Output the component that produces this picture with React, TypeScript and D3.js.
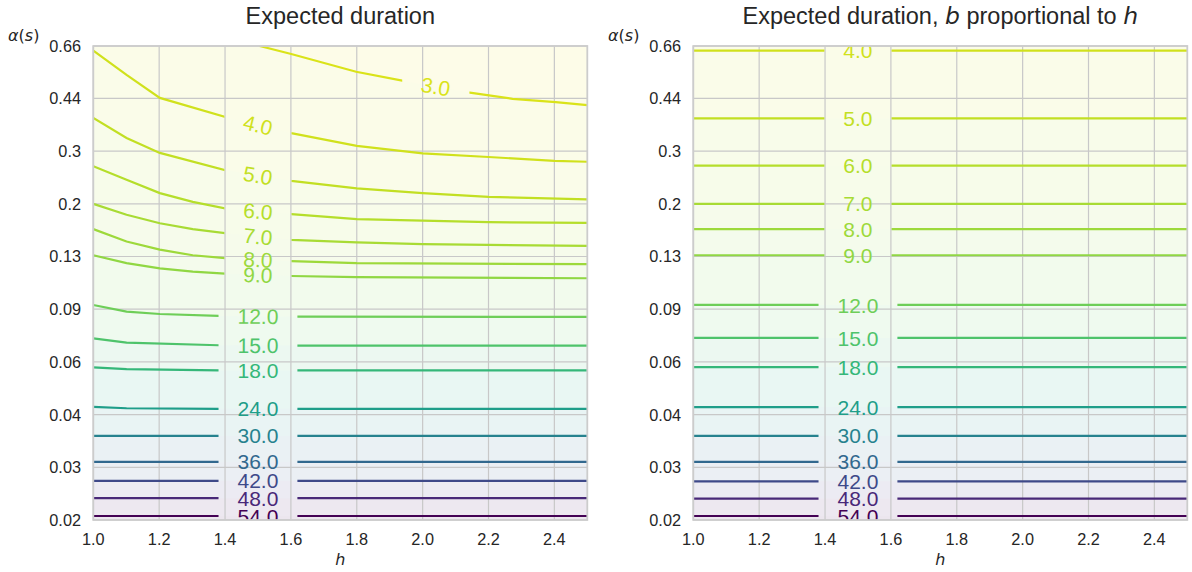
import React from "react";
import * as d3 from "d3";

type Pt = [number, number];

// ---------- axis ticks ----------
const xTickValues = [1.0, 1.2, 1.4, 1.6, 1.8, 2.0, 2.2, 2.4];
const xTickLabels = ["1.0", "1.2", "1.4", "1.6", "1.8", "2.0", "2.2", "2.4"];
const yTickValues = [0.02, 0.0295, 0.0435, 0.0642, 0.0947, 0.1397, 0.2061, 0.3041, 0.4487, 0.66];
const yTickLabels = ["0.02", "0.03", "0.04", "0.06", "0.09", "0.13", "0.2", "0.3", "0.44", "0.66"];

// ---------- panel A: Expected duration (contour lines as [h, alpha]) ----------
const levelsA = [3, 4, 5, 6, 7, 8, 9, 12, 15, 18, 24, 30, 36, 42, 48, 54];
const contourA3: Pt[] = [[1.505, 0.66], [1.601, 0.622], [1.798, 0.546], [1.942, 0.51], [2.138, 0.469], [2.273, 0.447], [2.404, 0.436], [2.5, 0.427]];
const contourA4: Pt[] = [[1.0, 0.638], [1.101, 0.533], [1.202, 0.45], [1.402, 0.391], [1.601, 0.347], [1.8, 0.316], [2.0, 0.299], [2.2, 0.291], [2.4, 0.283], [2.5, 0.281]];
const contourA5: Pt[] = [[1.0, 0.388], [1.101, 0.335], [1.202, 0.3], [1.402, 0.264], [1.601, 0.244], [1.8, 0.231], [2.0, 0.223], [2.2, 0.217], [2.5, 0.213]];
const contourA6: Pt[] = [[1.0, 0.272], [1.101, 0.246], [1.202, 0.223], [1.302, 0.209], [1.402, 0.199], [1.601, 0.191], [1.8, 0.184], [2.0, 0.182], [2.2, 0.18], [2.5, 0.179]];
const contourA7: Pt[] = [[1.0, 0.206], [1.101, 0.19], [1.202, 0.1785], [1.302, 0.171], [1.402, 0.166], [1.601, 0.158], [1.8, 0.155], [2.0, 0.153], [2.5, 0.151]];
const contourA8: Pt[] = [[1.0, 0.171], [1.101, 0.156], [1.202, 0.147], [1.302, 0.141], [1.402, 0.138], [1.601, 0.135], [1.8, 0.133], [2.5, 0.132]];
const contourA9: Pt[] = [[1.0, 0.141], [1.101, 0.133], [1.202, 0.128], [1.302, 0.125], [1.402, 0.123], [1.601, 0.121], [1.8, 0.12], [2.5, 0.119]];
const contourA12: Pt[] = [[1.0, 0.0977], [1.101, 0.093], [1.202, 0.0914], [1.38, 0.0901], [1.626, 0.0896], [2.5, 0.0895]];
const contourA15: Pt[] = [[1.0, 0.0764], [1.101, 0.074], [1.38, 0.0726], [1.626, 0.0724], [2.5, 0.0724]];
const contourA18: Pt[] = [[1.0, 0.0617], [1.101, 0.0609], [1.38, 0.0603], [2.5, 0.0603]];
const contourA24: Pt[] = [[1.0, 0.0461], [1.101, 0.0456], [1.38, 0.0454], [2.5, 0.0454]];
const contourA30: Pt[] = [[1.0, 0.0372], [2.5, 0.0372]];
const contourA36: Pt[] = [[1.0, 0.0307], [2.5, 0.0307]];
const contourA42: Pt[] = [[1.0, 0.0267], [2.5, 0.0267]];
const contourA48: Pt[] = [[1.0, 0.0235], [2.5, 0.0235]];
const contourA54: Pt[] = [[1.0, 0.0206], [2.5, 0.0206]];
const contoursA = [contourA3, contourA4, contourA5, contourA6, contourA7, contourA8, contourA9, contourA12,
  contourA15, contourA18, contourA24, contourA30, contourA36, contourA42, contourA48, contourA54];
const labelHA = [2.04, 1.5, 1.5, 1.5, 1.5, 1.5, 1.5, 1.5, 1.5, 1.5, 1.5, 1.5, 1.5, 1.5, 1.5, 1.5];

// ---------- panel B: b proportional to h (flat contours, alpha per level) ----------
const levelsB = [4, 5, 6, 7, 8, 9, 12, 15, 18, 24, 30, 36, 42, 48, 54];
const alphaB = [0.638, 0.387, 0.273, 0.206, 0.171, 0.141, 0.0977, 0.0766, 0.0618, 0.046, 0.0372, 0.0307, 0.0266, 0.0234, 0.0206];
const labelHB = [1.5, 1.5, 1.5, 1.5, 1.5, 1.5, 1.5, 1.5, 1.5, 1.5, 1.5, 1.5, 1.5, 1.5, 1.5];
const hDomain: Pt = [1.0, 2.5];
const contoursB: Pt[][] = alphaB.map((a) => [[hDomain[0], a], [hDomain[1], a]]);

// ---------- layout / style ----------
const FONT = "'Liberation Sans', Arial, Helvetica, sans-serif";
const MATH = "'DejaVu Sans', sans-serif";
const TXT = "#262626";
const PLOT_TOP = 46;
const PLOT_BOTTOM = 520;
const PLOT_W = 494;
const VMIN = 0;
const VMAX = 54;

function yAtPx(pts: Pt[], x: number): number {
  if (x <= pts[0][0]) return pts[0][1];
  for (let i = 1; i < pts.length; i++) {
    if (x <= pts[i][0]) {
      const t = (x - pts[i - 1][0]) / (pts[i][0] - pts[i - 1][0]);
      return pts[i - 1][1] + t * (pts[i][1] - pts[i - 1][1]);
    }
  }
  return pts[pts.length - 1][1];
}

function Panel(props: { id: string; x0: number; levels: number[]; lines: Pt[][]; labelH: number[]; title: React.ReactNode }) {
  const { id, x0, levels, lines, labelH, title } = props;
  const x1 = x0 + PLOT_W;
  const xs = d3.scaleLinear().domain(hDomain).range([x0, x1]);
  const ys = d3.scaleLog().domain([0.02, 0.66]).range([PLOT_BOTTOM, PLOT_TOP]);
  const cmap = (v: number) => d3.interpolateViridis(1 - Math.max(0, Math.min(1, (v - VMIN) / (VMAX - VMIN))));
  const tint = (v: number) => d3.interpolateRgb("#ffffff", cmap(v))(0.1);
  const lineGen = d3.line<Pt>().x((p) => xs(p[0])).y((p) => ys(p[1]));
  const areaGen = d3.area<Pt>().x((p) => xs(p[0])).y0(PLOT_BOTTOM).y1((p) => ys(p[1]));

  const fs = 21;
  const items = levels.map((L, i) => {
    const pts = lines[i];
    const px: Pt[] = pts.map((p) => [xs(p[0]), ys(p[1])]);
    const lx = xs(labelH[i]);
    const text = L.toFixed(1);
    const w = fs * (0.556 * (text.length - 1) + 0.278);
    const hg = w / 2 + 19;
    const ly = yAtPx(px, lx);
    const ang = (Math.atan2(yAtPx(px, lx + hg) - yAtPx(px, lx - hg), 2 * hg) * 180) / Math.PI;
    const fillPts: Pt[] = pts[0][0] > hDomain[0] ? [[hDomain[0], pts[0][1]], ...pts] : pts;
    const below = i < levels.length - 1 ? (L + levels[i + 1]) / 2 : L + 3;
    return { L, pts, lx, ly, hg, ang, text, fillPts, below };
  });

  const clipId = `${id}-plot`;
  return (
    <g>
      <defs>
        <clipPath id={clipId}>
          <rect x={x0} y={PLOT_TOP} width={PLOT_W} height={PLOT_BOTTOM - PLOT_TOP} />
        </clipPath>
        {items.map((it, i) => (
          <clipPath id={`${id}-gap-${i}`} key={i}>
            <rect x={x0} y={PLOT_TOP} width={Math.max(0, it.lx - it.hg - x0)} height={PLOT_BOTTOM - PLOT_TOP} />
            <rect x={it.lx + it.hg} y={PLOT_TOP} width={Math.max(0, x1 - it.lx - it.hg)} height={PLOT_BOTTOM - PLOT_TOP} />
          </clipPath>
        ))}
      </defs>

      {/* filled bands */}
      <g clipPath={`url(#${clipId})`}>
        <rect x={x0} y={PLOT_TOP} width={PLOT_W} height={PLOT_BOTTOM - PLOT_TOP} fill={tint(levels[0] - 1)} />
        {items.map((it, i) => (
          <path key={i} d={areaGen(it.fillPts) || ""} fill={tint(it.below)} />
        ))}
      </g>

      {/* grid */}
      <g stroke="#c8c8c8" strokeWidth={1.2}>
        {xTickValues.map((v, i) => (
          <line key={"gx" + i} x1={xs(v)} x2={xs(v)} y1={PLOT_TOP} y2={PLOT_BOTTOM} />
        ))}
        {yTickValues.map((v, i) => (
          <line key={"gy" + i} x1={x0} x2={x1} y1={ys(v)} y2={ys(v)} />
        ))}
      </g>

      {/* contour lines */}
      <g clipPath={`url(#${clipId})`}>
        {items.map((it, i) => (
          <path key={i} d={lineGen(it.pts) || ""} fill="none" stroke={cmap(it.L)} strokeWidth={2.2}
            clipPath={`url(#${id}-gap-${i})`} />
        ))}
      </g>

      {/* contour labels */}
      <g clipPath={`url(#${clipId})`}>
        {items.map((it, i) => (
          <text key={i} x={it.lx} y={it.ly} dy="0.36em" textAnchor="middle" fontFamily={FONT} fontSize={fs}
            fill={cmap(it.L)} transform={`rotate(${it.ang.toFixed(2)},${it.lx},${it.ly})`}>
            {it.text}
          </text>
        ))}
      </g>

      {/* frame */}
      <rect x={x0} y={PLOT_TOP} width={PLOT_W} height={PLOT_BOTTOM - PLOT_TOP} fill="none" stroke="#cccccc" strokeWidth={1.8} />

      {/* ticks */}
      {xTickValues.map((v, i) => (
        <text key={"xt" + i} x={xs(v)} y={544.5} textAnchor="middle" fontFamily={FONT} fontSize={16.3} fill={TXT}>
          {xTickLabels[i]}
        </text>
      ))}
      {yTickValues.map((v, i) => (
        <text key={"yt" + i} x={x0 - 12.3} y={ys(v)} dy="0.36em" textAnchor="end" fontFamily={FONT} fontSize={16.3} fill={TXT}>
          {yTickLabels[i]}
        </text>
      ))}

      {/* axis labels */}
      <text x={x0 + PLOT_W / 2} y={565} textAnchor="middle" fontFamily={MATH} fontStyle="italic" fontSize={16} fill={TXT}>h</text>
      <text x={x0 - 85.3} y={41} fontFamily={MATH} fontSize={16} fill={TXT}>
        <tspan fontStyle="italic">α</tspan>
        <tspan>(</tspan>
        <tspan fontStyle="italic">s</tspan>
        <tspan>)</tspan>
      </text>

      {/* title */}
      <text x={x0 + PLOT_W / 2} y={24} textAnchor="middle" fontFamily={FONT} fontSize={23.5} fill={TXT}>
        {title}
      </text>
    </g>
  );
}

export default function App() {
  return (
    <svg width={1192} height={572} viewBox="0 0 1192 572"
      style={{ position: "absolute", left: 0, top: 0, display: "block", background: "#ffffff" }}>
      <Panel id="pa" x0={93.3} levels={levelsA} lines={contoursA} labelH={labelHA} title="Expected duration" />
      <Panel id="pb" x0={693.3} levels={levelsB} lines={contoursB} labelH={labelHB}
        title={
          <>
            <tspan>Expected duration, </tspan>
            <tspan fontFamily={MATH} fontStyle="italic">b</tspan>
            <tspan> proportional to </tspan>
            <tspan fontFamily={MATH} fontStyle="italic">h</tspan>
          </>
        } />
    </svg>
  );
}
